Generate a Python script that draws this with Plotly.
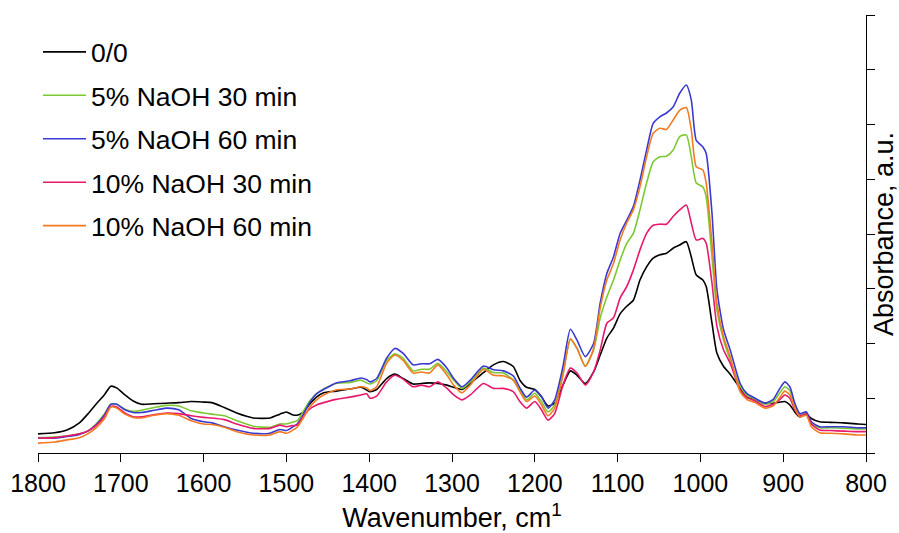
import plotly.graph_objects as go

wavenumber = [1800, 1780, 1765, 1750, 1740, 1730, 1720, 1712, 1705, 1695, 1685, 1675, 1660, 1645, 1630,
              1615, 1600, 1590, 1575, 1560, 1540, 1520, 1508, 1500, 1493, 1487, 1480, 1472, 1463, 1455,
              1440, 1423, 1410, 1403, 1399, 1391, 1379, 1369, 1359, 1347, 1337, 1327, 1317, 1306, 1298,
              1288, 1278, 1262, 1250, 1238, 1226, 1218, 1210, 1200, 1192, 1184, 1176, 1166, 1157, 1149,
              1139, 1129, 1121, 1113, 1105, 1097, 1089, 1081, 1073, 1065, 1057, 1049, 1041, 1033, 1025,
              1017, 1011, 1005, 997, 993, 986, 980, 972, 964, 952, 944, 934, 922, 912, 904,
              898, 892, 886, 880, 872, 866, 856, 843, 827, 810, 800]

abs_0_0 = [0.035, 0.037, 0.042, 0.055, 0.071, 0.089, 0.106, 0.122, 0.119, 0.106, 0.095, 0.089, 0.090, 0.091, 0.092,
           0.094, 0.093, 0.092, 0.083, 0.073, 0.064, 0.064, 0.071, 0.075, 0.070, 0.069, 0.074, 0.089, 0.103, 0.110,
           0.113, 0.117, 0.120, 0.115, 0.112, 0.116, 0.136, 0.144, 0.136, 0.126, 0.127, 0.128, 0.127, 0.124, 0.120,
           0.116, 0.127, 0.147, 0.161, 0.167, 0.158, 0.133, 0.120, 0.116, 0.103, 0.086, 0.091, 0.124, 0.150, 0.142,
           0.127, 0.148, 0.179, 0.210, 0.228, 0.254, 0.268, 0.279, 0.316, 0.340, 0.356, 0.362, 0.365, 0.374, 0.380,
           0.386, 0.358, 0.325, 0.316, 0.304, 0.237, 0.182, 0.158, 0.144, 0.118, 0.102, 0.097, 0.091, 0.091, 0.093,
           0.094, 0.088, 0.075, 0.066, 0.071, 0.063, 0.057, 0.056, 0.055, 0.053, 0.052]

abs_5_30 = [0.028, 0.029, 0.031, 0.035, 0.040, 0.053, 0.071, 0.089, 0.089, 0.080, 0.076, 0.078, 0.083, 0.087, 0.086,
            0.077, 0.073, 0.071, 0.068, 0.059, 0.049, 0.047, 0.053, 0.053, 0.056, 0.059, 0.075, 0.095, 0.109, 0.117,
            0.127, 0.129, 0.133, 0.128, 0.126, 0.132, 0.169, 0.181, 0.173, 0.150, 0.153, 0.153, 0.164, 0.148, 0.133,
            0.118, 0.130, 0.155, 0.147, 0.146, 0.133, 0.115, 0.097, 0.109, 0.094, 0.075, 0.088, 0.146, 0.208, 0.191,
            0.159, 0.188, 0.247, 0.285, 0.316, 0.352, 0.383, 0.401, 0.444, 0.493, 0.532, 0.541, 0.542, 0.553, 0.578,
            0.581, 0.541, 0.493, 0.486, 0.468, 0.358, 0.261, 0.206, 0.170, 0.122, 0.106, 0.098, 0.089, 0.094, 0.110,
            0.121, 0.114, 0.088, 0.071, 0.074, 0.055, 0.046, 0.046, 0.045, 0.044, 0.044]

abs_5_60 = [0.027, 0.027, 0.030, 0.034, 0.040, 0.051, 0.069, 0.089, 0.089, 0.079, 0.074, 0.074, 0.078, 0.082, 0.079,
            0.063, 0.057, 0.055, 0.048, 0.042, 0.036, 0.036, 0.043, 0.041, 0.047, 0.053, 0.069, 0.092, 0.109, 0.116,
            0.128, 0.132, 0.137, 0.134, 0.130, 0.136, 0.173, 0.191, 0.182, 0.161, 0.163, 0.163, 0.171, 0.155, 0.136,
            0.121, 0.133, 0.159, 0.152, 0.150, 0.141, 0.119, 0.102, 0.115, 0.103, 0.082, 0.097, 0.158, 0.226, 0.206,
            0.176, 0.200, 0.274, 0.328, 0.358, 0.401, 0.425, 0.450, 0.498, 0.553, 0.602, 0.614, 0.621, 0.632, 0.657,
            0.672, 0.645, 0.571, 0.559, 0.547, 0.438, 0.298, 0.225, 0.188, 0.127, 0.109, 0.100, 0.091, 0.098, 0.118,
            0.130, 0.121, 0.091, 0.072, 0.075, 0.057, 0.048, 0.048, 0.048, 0.046, 0.046]

abs_10_30 = [0.027, 0.028, 0.031, 0.035, 0.040, 0.050, 0.066, 0.085, 0.084, 0.073, 0.066, 0.066, 0.070, 0.073, 0.072,
             0.068, 0.065, 0.064, 0.061, 0.053, 0.045, 0.045, 0.051, 0.048, 0.050, 0.051, 0.066, 0.080, 0.088, 0.092,
             0.098, 0.102, 0.106, 0.108, 0.100, 0.104, 0.130, 0.142, 0.135, 0.121, 0.124, 0.121, 0.130, 0.118, 0.106,
             0.097, 0.106, 0.127, 0.118, 0.118, 0.112, 0.094, 0.082, 0.094, 0.079, 0.060, 0.072, 0.124, 0.155, 0.146,
             0.124, 0.148, 0.188, 0.237, 0.247, 0.283, 0.304, 0.334, 0.371, 0.401, 0.416, 0.418, 0.418, 0.432, 0.444,
             0.453, 0.420, 0.389, 0.392, 0.383, 0.310, 0.231, 0.188, 0.164, 0.115, 0.102, 0.095, 0.085, 0.089, 0.098,
             0.106, 0.100, 0.079, 0.068, 0.071, 0.053, 0.042, 0.041, 0.040, 0.039, 0.039]

abs_10_60 = [0.018, 0.020, 0.024, 0.028, 0.035, 0.046, 0.062, 0.084, 0.082, 0.071, 0.065, 0.064, 0.069, 0.072, 0.069,
             0.059, 0.053, 0.052, 0.047, 0.039, 0.033, 0.033, 0.039, 0.036, 0.041, 0.047, 0.063, 0.083, 0.098, 0.106,
             0.115, 0.117, 0.121, 0.119, 0.114, 0.121, 0.164, 0.179, 0.169, 0.146, 0.148, 0.146, 0.161, 0.142, 0.124,
             0.110, 0.124, 0.153, 0.142, 0.141, 0.133, 0.112, 0.094, 0.104, 0.088, 0.068, 0.082, 0.142, 0.208, 0.191,
             0.158, 0.191, 0.265, 0.316, 0.346, 0.389, 0.420, 0.444, 0.486, 0.541, 0.584, 0.593, 0.591, 0.608, 0.626,
             0.631, 0.590, 0.523, 0.517, 0.493, 0.383, 0.273, 0.212, 0.176, 0.112, 0.098, 0.092, 0.082, 0.086, 0.102,
             0.113, 0.106, 0.082, 0.066, 0.069, 0.048, 0.037, 0.036, 0.035, 0.033, 0.033]

series_names = ["0/0", "5% NaOH 30 min", "5% NaOH 60 min", "10% NaOH 30 min", "10% NaOH 60 min"]
series_values = [abs_0_0, abs_5_30, abs_5_60, abs_10_30, abs_10_60]
series_colors = ["#000000", "#7cc832", "#3a3ad2", "#e8196c", "#f47a22"]

x_ticks = [1800, 1700, 1600, 1500, 1400, 1300, 1200, 1100, 1000, 900, 800]
y_ticks = [0.0, 0.1, 0.2, 0.3, 0.4, 0.5, 0.6, 0.7, 0.8]

FONT = "Liberation Sans, Arial, sans-serif"

fig = go.Figure()
for name, vals, col in zip(series_names, series_values, series_colors):
    fig.add_trace(go.Scatter(
        x=wavenumber, y=vals, name=name, mode="lines",
        line=dict(color=col, width=1.6, shape="spline", smoothing=0.6),
        legendgroup=name,
    ))

fig.update_layout(
    width=899, height=533,
    margin=dict(l=38, r=33, t=15, b=80),
    paper_bgcolor="white", plot_bgcolor="white",
    font=dict(family=FONT, color="black", size=25),
    showlegend=True,
    legend=dict(x=0.0, y=0.97, xanchor="left", yanchor="top",
                bgcolor="rgba(0,0,0,0)", font=dict(size=26.5, family=FONT),
                itemwidth=43, tracegroupgap=6),
    xaxis=dict(range=[1800, 800], tickvals=x_ticks, ticks="outside", ticklen=8, tickwidth=1.3,
               tickcolor="black", showline=True, linecolor="black", linewidth=1.3,
               showgrid=False, zeroline=False, tickfont=dict(size=25), automargin=False,
               title=dict(text="Wavenumber, cm<sup>1</sup>", font=dict(size=27), standoff=16)),
    xaxis2=dict(range=[1800, 800], tickvals=x_ticks, ticks="inside", ticklen=7, tickwidth=1.3,
                tickcolor="black", showticklabels=False, showline=False, showgrid=False,
                zeroline=False, overlaying="x", anchor="y", side="bottom"),
    yaxis=dict(range=[0, 0.8], tickvals=y_ticks, side="right", ticks="outside", ticklen=8,
               tickwidth=1.3, tickcolor="black", showline=True, linecolor="black", linewidth=1.3,
               showgrid=False, zeroline=False, showticklabels=False, automargin=False,
               title=dict(text="Absorbance, a.u.", font=dict(size=27), standoff=2)),
    yaxis2=dict(range=[0, 0.8], tickvals=y_ticks, side="right", ticks="inside", ticklen=15,
                tickwidth=1.3, tickcolor="black", showline=False, showgrid=False, zeroline=False,
                showticklabels=False, overlaying="y", anchor="x"),
)

fig.write_html("out.html")
